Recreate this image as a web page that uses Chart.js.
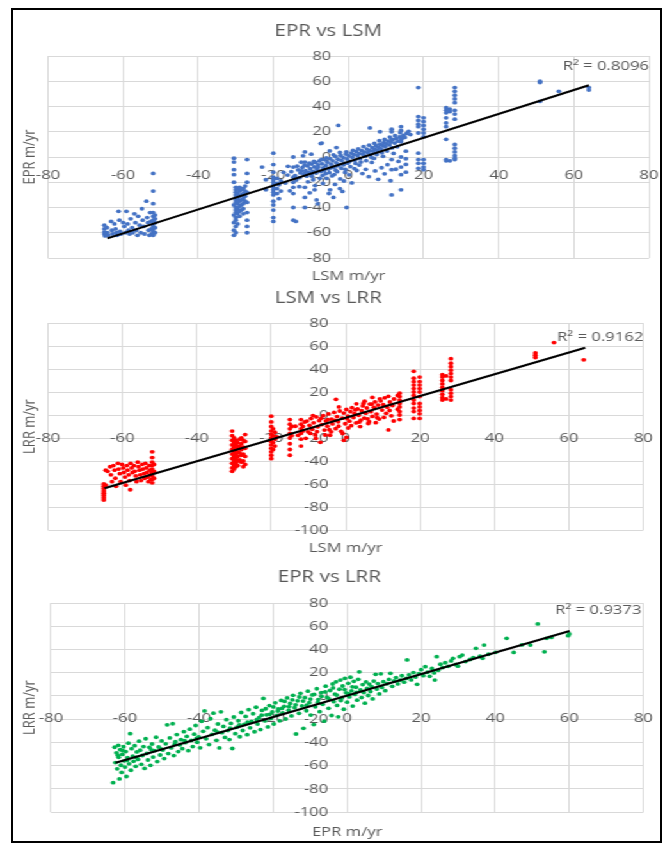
<!DOCTYPE html>
<html><head><meta charset="utf-8">
<script src="https://cdn.jsdelivr.net/npm/chart.js@4.4.1/dist/chart.umd.min.js"></script>
<style>
html,body{margin:0;padding:0;background:#fff;width:672px;height:844px;overflow:hidden;}
#frame{position:absolute;left:11px;top:8px;width:651px;height:835px;border:2px solid #000;box-sizing:border-box;pointer-events:none;z-index:5;}
#wrap{position:absolute;left:0;top:0;width:525px;height:844px;transform:scaleX(1.28);transform-origin:0 0;}
canvas{position:absolute;left:0;}
</style></head><body>
<div id="wrap">
<canvas id="c1" width="525" height="276" style="top:14px"></canvas>
<canvas id="c2" width="525" height="275" style="top:287px"></canvas>
<canvas id="c3" width="525" height="281" style="top:563px"></canvas>
</div>
<div id="frame"></div>
<script>
// ---- data: [x, y] pairs ----
const lsmEpr = [
[-65,-54],[-65,-57],[-65,-59.5],[-65,-61],[-64.8,-62.5],[-64.3,-56],[-64.2,-60],[-64,-62],[-63.2,-51],[-63,-58],[-62.8,-61],
[-62.3,-53],[-62,-57],[-61.8,-60],[-61.6,-62],[-61.2,-43],[-61,-50],[-60.8,-59],[-60.6,-61],[-60,-52],[-59.7,-55],[-59.4,-60],
[-59.1,-43],[-58.8,-53],[-58.6,-58],[-58.3,-61],[-58,-49],[-57.6,-56],[-57.4,-60],[-57,-45],[-56.7,-52],[-56.5,-58],[-56.2,-62],
[-56,-47],[-55.6,-54],[-55.3,-60],[-55,-41],[-54.8,-50],[-54.5,-55],[-54.3,-61],[-53.8,-35],[-53.6,-48],[-53.4,-52],[-53.2,-58],
[-53,-62],[-52.8,-44],[-52.6,-51],[-52.5,-57],[-52.4,-61],
[-52,-13],[-52,-27],[-52,-37],[-52,-44],[-52,-47],[-52,-50],[-52,-53],[-52,-55],[-52,-57],[-52,-59],[-52,-61],[-52,-62],
[-51.5,-46],[-51.5,-49],[-51.5,-52],[-51.5,-56],[-51.5,-60],
[-30.5,-1],[-30.5,-4],[-30.5,-10],[-30.5,-14],[-30.5,-20],[-30.5,-38],[-30.5,-46],[-30.5,-52],[-30.5,-58],[-30.5,-62],
[-30,-24],[-30,-26],[-30,-28],[-30,-30],[-30,-32],[-30,-34],[-30,-36],[-30,-40],[-30,-42],[-30,-44],[-30,-48],[-30,-50],[-30,-55],[-30,-60],
[-29.5,-25],[-29.5,-29],[-29.5,-33],[-29.5,-37],[-29.5,-41],[-29.5,-45],[-29.5,-53],
[-29,-24],[-29,-27],[-29,-31],[-29,-35],[-29,-39],[-29,-43],[-29,-47],
[-28.5,-26],[-28.5,-30],[-28.5,-34],[-28.5,-38],[-28.5,-42],
[-28,-25],[-28,-29],[-28,-33],[-28,-37],[-28,-41],[-28,-45],
[-27.5,-23],[-27.5,-27],[-27.5,-31],[-27.5,-35],
[-27,-2],[-27,-13],[-27,-20],[-27,-28],[-27,-36],[-27,-44],[-27,-50],[-27,-55],[-27,-60],
[-23,-8],[-22,-18],[-22,-26],
[-20,3],[-20,-6],[-20,-12],[-20,-16],[-20,-18],[-20,-20],[-20,-22],[-20,-24],[-20,-26],[-20,-28],[-20,-30],[-20,-35],[-20,-38],[-20,-42],[-20,-48],[-20,-51],
[-19,-17],[-19,-21],[-19,-25],[-19,-29],[-18.5,-22],[-18.5,-33],[-18,-19],[-18,-27],
[-14.7,0],[-14.7,-8],[-14.7,-16],[-14.7,-20],[-14.7,-24],[-14.7,-29],[-14.7,-40],[-14.7,-50],[-14,-51],
[-11.6,4],[-11.6,-4],[-11.6,-13],[-11.6,-24],[-11.6,-32],[-11.6,-40],
[-9.4,-18],[-9,-26],[-8.5,-34],[-7.1,11],[-5.8,-17],[-4.9,-26],[-4,-32],[-2.7,25],[-2.3,-25],[-1.2,-19],[-0.5,-40],
[-13.4,-10.2],[-12.8,-12.6],[-12.3,-8.4],[-11.9,-13.9],[-11.4,-10.8],[-10.9,-7.1],[-10.6,-12.2],[-10.2,-9.3],[-9.8,-5.6],
[-9.5,-11.4],[-9.1,-7.9],[-8.8,-4.3],[-8.4,-9.8],[-8.1,-6.2],[-7.7,-3.1],[-7.4,-11.5],[-7.0,-5.4],[-6.7,-8.7],[-6.3,-2.2],
[-6.0,-6.9],[-5.6,-4.1],[-5.3,-9.6],[-4.9,-1.3],[-4.6,-5.7],[-4.2,-3.0],[-3.9,-8.2],[-3.5,0.4],[-3.2,-4.6],[-2.8,-1.8],
[-2.5,-6.3],[-2.1,1.2],[-1.8,-2.9],[-1.4,-0.5],[-1.1,-5.1],[-0.7,2.3],[-0.4,-1.6],[0.0,0.9],[0.3,-3.4],[0.7,3.1],[1.0,-0.2],
[1.4,1.9],[1.7,-2.6],[2.1,4.2],[2.4,1.0],[2.8,2.7],[3.1,-1.3],[3.5,5.1],[3.8,2.2],[4.2,3.9],[4.5,0.6],[4.9,6.3],[5.2,3.4],
[5.6,5.0],[5.9,1.8],[6.3,7.4],[6.6,4.6],[7.0,6.2],[7.3,8.9],[7.7,5.3],[8.0,7.7],[8.4,10.1],[8.7,6.5],[9.1,9.0],[9.4,11.3],
[9.8,8.1],[10.1,10.4],[10.5,12.6],[10.9,9.6],[11.3,11.8],[11.8,13.7],[12.3,11.0],[12.7,14.6],[13.2,12.5],[13.6,15.9],
[14.1,14.0],[14.6,17.2],[15.0,15.5],[15.5,18.6],[16.0,20.3],[16.5,17.8],
[-14.2,-14.8],[-13.7,-7.3],[-13.0,-16.4],[-12.5,-11.0],[-11.7,-6.5],[-11.1,-15.2],[-10.4,-4.9],[-9.9,-13.6],[-9.2,-3.4],
[-8.6,-12.7],[-8.0,-8.0],[-7.2,-1.9],[-6.5,-10.9],[-5.9,-0.8],[-5.1,-12.4],[-4.7,-8.6],[-4.0,1.7],[-3.4,-10.5],[-2.9,-7.0],
[-2.3,3.6],[-1.9,-8.9],[-1.3,-6.2],[-0.6,4.1],[-0.2,-4.9],[0.5,-7.6],[1.2,5.3],[1.9,-5.1],[2.6,6.4],[3.3,-4.0],[4.0,8.2],
[4.7,-2.9],[5.5,9.4],[6.1,-0.4],[6.9,10.8],[7.5,2.0],[8.2,12.9],[8.9,3.3],[9.6,13.9],[10.3,4.7],[11.0,15.8],[11.6,7.2],
[12.4,16.9],[13.0,8.1],[13.8,19.3],[-6.9,-14.6],[-3.8,-13.9],[-0.9,-12.2],[2.2,-10.7],[-16.2,-14.3],[-15.2,-11.6],
[-17.3,-12.1],[-16.8,-20.6],[-16.1,-7.4],[-15.6,-26.8],[-13.9,-18.2],[-13.1,-23.5],[-12.6,-4.1],[-10.8,-19.7],[-10.3,-28.4],
[-9.7,-15.3],[-8.9,-22.6],[-8.2,-37.1],[-7.6,-16.9],[-6.8,-21.0],[-6.1,-13.2],[-5.2,-28.9],[-4.4,-15.0],[-3.6,-21.7],
[-3.0,-11.6],[-2.2,-17.4],[-1.6,-27.3],[-0.8,-9.8],[0.2,-14.1],[0.9,-20.5],[-7.4,10.6],[-5.0,4.8],[-9.9,2.2],[-12.1,0.9],[-3.2,7.5],
[1.6,-9.2],[2.9,-6.4],[3.7,-13.1],[4.6,-9.8],[5.4,-15.6],[6.2,-4.3],[7.1,-11.0],[7.9,-17.7],[8.8,-8.5],[9.6,-13.3],[10.4,-6.1],
[11.2,-18.8],[12.6,-9.7],[13.3,-3.5],[12.0,2.8],[9.2,0.5],[6.8,-1.1],[15.3,-1.4],[15.3,-5.9],[15.3,-12.0],[15.3,4.6],
[5.7,23],[8.4,20],[11.5,20],[11.5,22],[11.5,14],[11.5,-2],[11.5,-10],[11.5,-30],
[14,24],[14,21],[14,15],[14,12],[14,0],[14,-8],[14,-14],[14,-26],
[18.6,55],[18.6,32],[18.6,29],[18.6,26],[18.6,24],[18.6,19],[18.6,3],[18.6,-2],[18.6,-5],[18.6,-9],
[20,31],[20,28],[20,25],[20,22],[20,19],[20,16],[20,-2],[20,-5],[20,-8],[20,-10],
[26,39],[26,37],[26,35],[26,31],[26,27],[26,24],[26,14],[26,-2],[26,-3],[27,38],[27,36],[27,-3],
[28.3,55],[28.3,52],[28.3,49],[28.3,46],[28.3,43],[28.3,37],[28.3,34],[28.3,30],[28.3,10],[28.3,7],[28.3,4],[28.3,1],[28.3,-1],[28.3,-2],
[51,60],[51,59],[51,44],[56,52],[64,55],[64,53]
];

const lsmLrr = [
[-65,-60],[-65,-62],[-65,-64],[-65,-66],[-65,-68],[-65,-70],[-65,-72],[-65,-74],[-64.5,-48],[-64.5,-61],
[-64,-49],[-63.3,-45],[-63.1,-52],[-62.8,-58],[-62.4,-44],[-62.1,-48],[-61.9,-55],[-61.7,-62],[-61.2,-42],[-61,-47],[-60.7,-51],
[-60.5,-58],[-60.1,-43],[-59.8,-46],[-59.6,-50],[-59.3,-54],[-59.1,-61],[-58.8,-44],[-58.6,-48],[-58.3,-52],[-58.1,-57],[-57.8,-42],
[-57.5,-46],[-57.3,-50],[-57.9,-65],[-56.9,-44],[-56.7,-49],[-56.4,-53],[-56.2,-58],[-55.9,-41],[-55.7,-45],[-55.4,-48],[-55.2,-52],
[-55,-57],[-54.7,-43],[-54.5,-47],[-54.2,-51],[-54,-55],[-53.8,-42],[-53.6,-46],[-53.4,-50],[-53.2,-54],[-53,-58],[-52.8,-44],
[-52.6,-48],[-52.4,-52],[-52.3,-56],
[-52,-32],[-52,-37],[-52,-41],[-52,-44],[-52,-47],[-52,-50],[-52,-53],[-52,-56],[-52,-59],[-51.5,-43],[-51.5,-49],[-51.5,-55],
[-30.5,-14],[-30.5,-18],[-30.5,-22],[-30.5,-26],[-30.5,-30],[-30.5,-34],[-30.5,-38],[-30.5,-42],[-30.5,-46],[-30.5,-49],
[-30,-20],[-30,-24],[-30,-28],[-30,-32],[-30,-36],[-30,-40],[-30,-44],[-30,-47],
[-29.5,-22],[-29.5,-26],[-29.5,-30],[-29.5,-34],[-29.5,-38],[-29.5,-42],[-29.5,-45],
[-29,-24],[-29,-28],[-29,-32],[-29,-36],[-29,-40],[-29,-44],[-28.5,-21],[-28.5,-27],[-28.5,-33],[-28.5,-39],
[-28,-20],[-28,-25],[-28,-30],[-28,-35],[-28,-41],[-27.5,-22],[-27.5,-28],[-27.5,-34],[-27.5,-40],[-27.5,-45],
[-27,-17],[-27,-23],[-27,-29],[-27,-36],[-27,-43],
[-20,-1],[-20,-6],[-20,-10],[-20,-14],[-20,-17],[-20,-20],[-20,-23],[-20,-26],[-20,-29],[-20,-32],[-20,-35],[-20,-38],
[-19.5,-12],[-19.5,-18],[-19.5,-24],[-19.5,-30],[-19,-15],[-19,-21],[-19,-27],[-18.5,-19],
[-15,-4],[-15,-8],[-15,-12],[-15,-16],[-15,-20],[-15,-25],[-15,-30],[-15,-35],[-14.5,-10],[-14.5,-18],
[-12,-4],[-12,-8],[-12,-12],[-12,-16],[-12,-21],[-12,-27],[-11.5,-10],[-11.5,-14],
[-10.4,-5.3],[-10.1,-14.6],[-9.7,-9.0],[-9.3,-3.1],[-9.0,-12.4],[-8.6,-6.8],[-8.2,-17.3],[-7.9,-1.7],[-7.5,-10.2],[-7.1,-4.9],
[-6.8,-23.8],[-6.4,-8.3],[-6.0,-0.6],[-5.7,-13.1],[-5.3,-5.2],[-4.9,-9.7],[-4.6,0.9],[-4.2,-17.6],[-3.8,-3.6],[-3.5,-7.8],
[-3.1,2.2],[-2.7,-11.9],[-2.6,13.6],[-2.3,-1.4],[-2.0,-5.9],[-1.6,3.5],[-1.2,-14.2],[-0.9,-2.8],[-0.5,1.7],[-0.5,-22.0],
[-0.1,-7.6],[0.2,4.8],[0.2,-19.5],[0.6,-0.9],[1.0,-5.4],[1.3,2.9],[1.7,6.4],[2.1,-2.2],[2.4,1.1],[2.8,-6.9],[3.2,5.3],
[3.5,-0.3],[3.9,-10.1],[4.3,3.8],[4.6,7.9],[5.0,-2.7],[5.4,1.6],[5.7,6.1],[6.1,-7.4],[6.5,9.5],[6.8,2.9],[7.2,-1.2],
[7.2,15.3],[7.6,6.7],[7.9,11.4],[8.3,0.8],[8.7,8.6],[9.0,-3.5],[9.4,12.2],[9.8,4.3],[10.1,9.1],[10.5,14.9],[10.9,1.5],
[11.2,6.8],[11.5,16.2],[11.5,-13.0],[11.9,11.3],[12.3,-0.7],[12.6,8.2],[13.0,13.9],[4.1,-4.4],[6.3,-5.8],[8.5,-2.4],
[2.9,9.7],[5.1,12.0],[-1.8,7.0],[-8.0,-20.4],[-4.4,-12.8],[0.7,-11.3],
[-13.5,-9.8],[-12.8,-17.7],[-11.0,-6.1],[-10.7,-20.3],[-9.5,-16.0],[-8.8,-0.5],[-7.7,-14.5],[-6.6,-2.9],[-5.5,-17.4],
[-4.8,-4.1],[-3.9,-14.6],[-2.9,-4.7],[-1.9,-9.8],[-0.8,-16.1],[0.4,-3.2],[1.5,-9.3],[2.6,4.4],[3.7,-6.1],[4.8,10.1],
[5.9,-3.3],[7.0,9.4],[8.1,-6.7],[9.2,14.1],[10.3,-2.1],[11.8,3.9],[12.9,-5.2],
[14.5,19],[14.5,16],[14.5,13],[14.5,10],[14.5,7],[14.5,3],[14.5,0],[14.5,-4],[14,17],[14,5],
[18.3,38],[18.3,32],[18.3,29],[18.3,26],[18.3,23],[18.3,20],[18.3,17],[18.3,13],[18.3,10],[18.3,6],[18.3,3],[18.3,-3],
[19.9,33],[19.9,29],[19.9,26],[19.9,23],[19.9,20],[19.9,16],[19.9,10],[19.9,7],[19.9,4],[19.9,1],[19.9,-3],
[26,35],[26,33],[26,30],[26,27],[26,24],[26,21],[26,18],[26,15],[26,13],[27,34],[27,14],
[28.3,49],[28.3,45],[28.3,42],[28.3,39],[28.3,36],[28.3,33],[28.3,30],[28.3,22],[28.3,19],[28.3,16],[28.3,13],
[51,54],[51,52],[51,50],[56,63],[64,48]
];

const eprLrr = [
[-63.2,-74.6],[-62.8,-44.1],[-62.6,-57.3],[-62.3,-48.9],[-62.1,-62.7],[-61.8,-42.5],[-61.7,-52.8],[-61.5,-71.4],[-61.3,-46.2],
[-61.1,-59.6],[-60.9,-65.8],[-60.7,-50.3],[-60.4,-43.7],[-60.2,-55.9],[-60.0,-61.2],[-59.8,-47.8],[-59.6,-69.3],[-59.3,-53.1],
[-59.1,-40.6],[-58.9,-58.4],[-58.6,-32.4],[-58.4,-63.9],[-58.2,-45.3],[-57.9,-51.7],[-57.7,-56.2],[-57.4,-42.8],[-57.1,-60.5],
[-56.8,-48.1],[-56.5,-54.6],[-56.2,-38.9],[-55.9,-46.7],[-55.6,-58.8],[-55.3,-51.2],[-55.0,-43.5],[-54.7,-62.3],
[-54.4,-36.8],[-54.1,-49.4],[-53.8,-55.1],[-53.4,-44.2],[-53.1,-59.7],[-52.7,-41.3],[-52.4,-52.6],[-52.0,-47.0],[-51.6,-35.5],
[-51.3,-56.4],[-50.9,-43.9],[-50.5,-50.8],[-50.1,-38.7],[-49.8,-46.5],[-49.4,-53.9],[-49.0,-41.2],[-48.6,-24.8],[-48.3,-49.6],
[-47.9,-36.1],[-47.5,-44.7],[-47.1,-23.9],[-46.8,-51.3],[-46.4,-39.4],[-46.0,-33.2],[-45.6,-47.8],[-45.2,-42.1],[-44.9,-37.6],
[-44.5,-45.3],[-44.1,-30.7],[-43.7,-40.2],[-43.3,-34.8],[-42.9,-47.1],[-42.5,-28.6],[-42.1,-38.3],[-41.7,-43.5],[-41.3,-32.9],
[-40.9,-25.4],[-40.5,-39.8],[-40.1,-35.2],[-39.7,-44.6],[-39.3,-21.8],[-38.9,-30.4],[-38.5,-12.9],[-38.1,-36.9],[-37.7,-27.3],
[-37.3,-41.8],[-36.9,-19.6],[-36.5,-33.1],[-36.1,-14.8],[-35.7,-29.5],[-35.3,-38.2],[-34.9,-24.1],[-34.5,-44.7],[-34.1,-13.6],
[-33.8,-31.6],[-33.4,-26.2],[-33.0,-35.7],[-32.6,-20.4],[-32.2,-29.8],[-31.8,-37.5],[-31.4,-23.6],[-31.0,-45.2],[-30.6,-18.1],
[-30.2,-32.4],[-29.8,-26.9],[-29.4,-21.3],[-29.0,-35.1],[-28.6,-14.2],[-28.2,-29.7],[-27.8,-24.5],[-27.4,-17.6],[-27.0,-33.3],
[-26.6,-11.8],[-26.2,-27.4],[-25.8,-21.9],[-25.4,-15.3],[-25.0,-30.8],[-24.6,-9.7],[-24.2,-24.2],[-23.8,-18.7],[-23.4,-28.9],
[-23.0,-12.4],[-22.6,-2.1],[-22.2,-21.5],[-21.8,-16.2],[-21.4,-26.6],[-21.0,-8.3],[-20.6,-19.4],[-20.2,-13.8],
[-19.8,-24.1],[-19.4,-5.9],[-19.0,-16.7],[-18.6,-11.2],[-18.2,-21.4],[-17.8,-3.8],[-17.4,-14.6],[-17.0,-8.9],[-16.6,-19.8],
[-16.2,-1.7],[-15.8,-12.3],[-15.4,-6.4],[-15.0,-17.2],[-14.6,0.6],[-14.2,-10.1],[-13.8,-32.7],[-13.4,-4.2],[-13.0,-14.9],
[-12.6,2.3],[-12.2,-8.6],[-11.8,-27.8],[-11.4,-1.5],[-11.0,-12.7],[-10.6,4.1],[-10.2,-5.8],[-9.8,-16.4],[-9.4,0.9],[-9.0,-24.6],
[-8.6,-9.3],[-8.2,6.2],[-7.8,-3.1],[-7.4,-13.5],[-7.0,2.8],[-6.6,-7.2],[-6.2,-21.7],[-5.8,8.4],[-5.4,-1.2],[-5.0,-10.6],
[-4.6,4.7],[-4.2,-16.8],[-3.9,10.3],[-3.6,-4.9],[-3.3,1.6],[-3.0,12.2],[-2.7,-8.1],[-2.4,-17.9],[-2.1,5.8],[-1.8,13.7],
[-1.5,-1.9],[-1.2,8.6],[-0.9,-11.4],[-0.6,15.2],[-0.3,2.7],[0.0,-5.3],[0.3,10.9],[0.6,-0.8],[0.9,16.1],[1.2,4.4],[1.5,-8.7],
[1.8,12.6],[2.1,1.3],[2.4,7.5],[2.7,-3.6],[3.0,14.3],[3.3,20.8],[3.6,5.2],[3.9,-1.4],[4.2,9.8],[4.5,2.9],[4.8,-6.2],[5.1,12.1],
[5.4,6.6],[5.7,0.4],[6.0,10.2],[6.3,3.8],[6.6,8.1],[6.9,-2.5],[7.2,12.8],[7.7,18.6],[8.0,5.9],[8.3,10.7],[8.7,1.8],[9.1,19.1],
[9.4,7.4],[9.8,12.3],
[10.3,4.6],[10.8,10.5],[11.3,14.2],[11.7,19.5],[12.2,8.3],[12.7,12.9],[13.2,15.8],[13.7,10.4],[14.3,13.6],[14.8,17.4],[15.4,11.9],
[16.0,15.1],[16.2,31.0],[16.7,18.2],[17.3,13.8],[17.9,20.1],[18.5,16.3],[18.9,10.0],[19.4,19.2],[20.0,22.6],[20.6,17.5],
[21.1,25.2],[21.7,20.4],[22.3,16.9],[22.9,23.7],[23.5,19.8],[23.7,13.7],[24.2,33.8],[24.6,22.1],[25.2,27.3],
[25.8,24.4],[26.5,28.6],[27.3,25.5],[28.1,30.2],[28.6,32.4],[29.4,27.1],[29.9,25.6],[30.4,33.8],[31.1,35.2],[32.0,29.6],
[33.2,31.4],[34.1,33.0],[34.8,41.0],[35.9,34.2],[36.6,32.4],[37.0,43.8],[38.2,35.9],[40.1,37.6],[43.1,49.6],[45.0,37.5],
[47.2,43.9],[49.5,43.8],[51.5,62.0],[53.3,38.0],[53.9,49.6],[55.2,50.4],[59.7,51.9],[60.0,53.4],
[-24.4,-20.3],[-23.1,-16.5],[-22.0,-11.0],[-20.9,-15.8],[-19.9,-9.4],[-18.7,-13.0],[-17.6,-10.7],[-16.9,-4.7],[-15.7,-9.1],
[-14.8,-3.3],[-13.9,-7.6],[-12.9,-0.9],[-11.9,-4.4],[-10.9,-7.9],[-9.9,-2.7],[-8.9,1.4],[-7.9,-5.6],[-6.9,-0.3],[-5.9,3.5],
[-4.9,-2.6],[-3.8,6.9],[-2.8,0.8],[-1.7,-3.9],[-0.7,5.5],[0.4,1.9],[1.4,7.9],[2.5,3.1],[-26.9,-22.6],[-29.1,-24.9],
[-31.6,-27.7],[-35.0,-31.2],[-40.7,-36.6],[-43.9,-38.5],[-46.6,-41.7],[-50.3,-45.6],[-52.9,-46.3],[-56.9,-52.9],[-59.4,-55.4],
[-61.9,-51.0],[-60.6,-47.1]
];

// trend line end points (from the reference)
const trendLsmEpr = [[-64.2,-64.5],[64,56.8]];
const trendLsmLrr = [[-64.8,-63.7],[64.4,58.5]];
const trendEprLrr = [[-62.5,-57.5],[60.1,55.9]];

const chartTitles = ['EPR vs LSM','LSM vs LRR','EPR vs LRR'];
const xAxisTitles = ['LSM m/yr','LSM m/yr','EPR m/yr'];
const yAxisTitles = ['EPR m/yr','LRR m/yr','LRR m/yr'];
const r2Labels = ['R\u00B2 = 0.8096','R\u00B2 = 0.9162','R\u00B2 = 0.9373'];
const xTickValues = [-80,-60,-40,-20,0,20,40,60,80];
const yTickValues1 = [-80,-60,-40,-20,0,20,40,60,80];
const yTickValues2 = [-100,-80,-60,-40,-20,0,20,40,60,80];

// ---- drawing ----
const FONT = 'Open Sans';
const TXT = '#595959';
const GRID = '#d9d9d9';

const r2Plugin = {
  id: 'r2',
  afterDatasetsDraw(chart, args, opts) {
    const {ctx, scales} = chart;
    ctx.save();
    ctx.font = '13px "' + FONT + '"';
    ctx.fillStyle = TXT;
    ctx.textAlign = 'right';
    ctx.textBaseline = 'middle';
    ctx.fillText(opts.text, scales.x.getPixelForValue(opts.atX), scales.y.getPixelForValue(opts.atY));
    ctx.restore();
  }
};

function build(id, o) {
  const tickFont = {family: FONT, size: 13};
  return new Chart(document.getElementById(id), {
    type: 'scatter',
    data: {
      datasets: [
        {data: o.points.map(p => ({x: p[0], y: p[1]})), backgroundColor: o.color, borderWidth: 0,
         pointRadius: 1.9, pointHoverRadius: 1.9, xAxisID: 'x', yAxisID: 'y', order: 2},
        {type: 'line', data: o.trend.map(p => ({x: p[0], y: p[1]})), borderColor: '#000', borderWidth: 2,
         pointRadius: 0, fill: false, tension: 0, xAxisID: 'x', yAxisID: 'y', order: 1}
      ]
    },
    options: {
      responsive: false, animation: false, events: [],
      layout: {padding: {left: 6, right: o.padR, top: 0, bottom: o.padB}},
      plugins: {
        legend: {display: false}, tooltip: {enabled: false},
        title: {display: true, text: o.title, color: TXT, font: {family: FONT, size: 16, weight: 'normal'},
                padding: {top: o.tTop, bottom: o.tBot}},
        r2: {text: o.r2, atX: o.r2x, atY: o.r2y}
      },
      scales: {
        x: {type: 'linear', position: {y: 0}, min: -80, max: 80,
            afterBuildTicks: ax => { ax.ticks = xTickValues.map(v => ({value: v})); },
            ticks: {color: TXT, font: tickFont, padding: o.xPad, maxRotation: 0},
            grid: {color: GRID, drawTicks: false}, border: {color: GRID}},
        y: {type: 'linear', position: {x: o.yLabelAt}, min: o.yTicks[0], max: o.yTicks[o.yTicks.length - 1],
            afterBuildTicks: ax => { ax.ticks = o.yTicks.map(v => ({value: v})); },
            ticks: {color: TXT, font: tickFont},
            grid: {color: GRID, drawTicks: false}, border: {display: false}},
        xt: {type: 'linear', position: 'bottom', ticks: {display: false}, grid: {display: false, drawTicks: false},
             border: {display: false},
             title: {display: true, text: o.xTitle, color: TXT, font: tickFont, padding: {top: o.xtTop, bottom: 4}}},
        yt: {type: 'linear', position: 'left', ticks: {display: false}, grid: {display: false, drawTicks: false},
             border: {display: false},
             title: {display: true, text: o.yTitle, color: TXT, font: tickFont, padding: {top: 9.6, bottom: o.ytBot}}}
      }
    },
    plugins: [r2Plugin]
  });
}

build('c1', {points: lsmEpr, trend: trendLsmEpr, color: '#4472C4', title: chartTitles[0], xTitle: xAxisTitles[0],
  yTitle: yAxisTitles[0], r2: r2Labels[0], r2x: 80, r2y: 72, yTicks: yTickValues1, yLabelAt: -4.6,
  padR: 18, padB: 2.2, tTop: 8, tBot: 14.8, xPad: 10, xtTop: 10.2, ytBot: 6.3});
build('c2', {points: lsmLrr, trend: trendLsmLrr, color: '#FF0000', title: chartTitles[1], xTitle: xAxisTitles[1],
  yTitle: yAxisTitles[1], r2: r2Labels[1], r2x: 80, r2y: 67.6, yTicks: yTickValues2, yLabelAt: -4.6,
  padR: 18, padB: 2.2, tTop: 2, tBot: 14.8, xPad: 15, xtTop: 10.2, ytBot: 6.3});
build('c3', {points: eprLrr, trend: trendEprLrr, color: '#00B050', title: chartTitles[2], xTitle: xAxisTitles[2],
  yTitle: yAxisTitles[2], r2: r2Labels[2], r2x: 79.5, r2y: 73.4, yTicks: yTickValues2, yLabelAt: -5.1,
  padR: 16.4, padB: 0, tTop: 4.4, tBot: 16.4, xPad: 15, xtTop: 12.2, ytBot: 8.6});
</script>
</body></html>
